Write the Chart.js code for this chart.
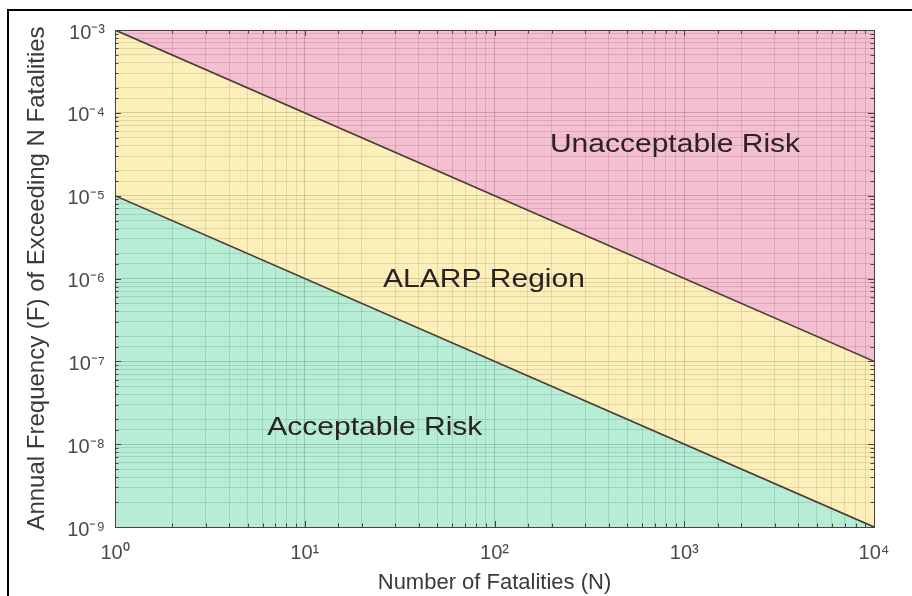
<!DOCTYPE html>
<html>
<head>
<meta charset="utf-8">
<title>F-N Risk Chart</title>
<script src="https://cdn.jsdelivr.net/npm/chart.js@4"></script>
<style>
  html, body { margin: 0; padding: 0; background: #fff; overflow: hidden; }
  #wrap { position: relative; width: 912px; height: 596px; }
  #frame {
    position: absolute; left: 7px; top: 9px; width: 1000px; height: 1000px;
    border-top: 2px solid #000; border-left: 2px solid #000;
  }
  canvas { position: absolute; left: 0; top: 0; }
</style>
</head>
<body>
<div id="wrap">
  <div id="frame"></div>
  <canvas id="fn-chart" width="912" height="596"></canvas>
</div>
<script>
// Criterion lines (F-N curves)
const nValues = [1, 10000];
const upperLimit = [1e-3, 1e-7];
const lowerLimit = [1e-5, 1e-9];

// Region labels and where they sit (N, F)
const regionNames = ['Unacceptable Risk', 'ALARP Region', 'Acceptable Risk'];
const regionN = [894, 88, 23.4];
const regionF = [4.1e-5, 9.6e-7, 1.55e-8];

// Tick labels are powers of ten
const xExponents = [0, 1, 2, 3, 4];
const yExponents = [-9, -8, -7, -6, -5, -4, -3];

const SUP = {'-': '\u207B', '0': '\u2070', '1': '\u00B9', '2': '\u00B2', '3': '\u00B3',
  '4': '\u2074', '5': '\u2075', '6': '\u2076', '7': '\u2077', '8': '\u2078', '9': '\u2079'};

function powerLabel(exps) {
    return function(value) {
        const e = Math.log10(value);
        const r = Math.round(e);
        if (Math.abs(e - r) < 1e-6 && exps.includes(r)) {
            return '10' + String(r).split('').map(c => SUP[c]).join('');
        }
        return '';
    };
}

function toPoints(xs, ys) {
    return xs.map((x, i) => ({x: x, y: ys[i]}));
}

function isDecade(v) {
    const e = Math.log10(v);
    return Math.abs(e - Math.round(e)) < 1e-6;
}

const FONT = '"Liberation Sans", Arial, Helvetica, sans-serif';
const lineColor = '#4a3d36';

/**
 * Plot box, inward tick marks and region captions
 */
const decorations = {
    id: 'decorations',
    afterDraw(chart) {
        const {ctx, chartArea: a, scales: {x, y}} = chart;
        ctx.save();
        ctx.strokeStyle = '#444';
        ctx.lineWidth = 1;
        ctx.beginPath();
        x.ticks.forEach(t => {
            const px = Math.round(x.getPixelForValue(t.value)) + 0.5;
            const len = isDecade(t.value) ? 6 : 3.5;
            ctx.moveTo(px, a.bottom); ctx.lineTo(px, a.bottom - len);
            ctx.moveTo(px, a.top); ctx.lineTo(px, a.top + len);
        });
        y.ticks.forEach(t => {
            const py = Math.round(y.getPixelForValue(t.value)) + 0.5;
            const len = isDecade(t.value) ? 6 : 3.5;
            ctx.moveTo(a.left, py); ctx.lineTo(a.left + len, py);
            ctx.moveTo(a.right, py); ctx.lineTo(a.right - len, py);
        });
        ctx.stroke();
        ctx.strokeRect(Math.round(a.left) + 0.5, Math.round(a.top) + 0.5,
            Math.round(a.right - a.left), Math.round(a.bottom - a.top));

        ctx.font = '25px ' + FONT;
        ctx.fillStyle = '#2a2326';
        ctx.textAlign = 'center';
        ctx.textBaseline = 'middle';
        regionNames.forEach((name, i) => {
            const px = x.getPixelForValue(regionN[i]);
            const py = y.getPixelForValue(regionF[i]);
            ctx.save();
            ctx.translate(px, py);
            ctx.scale(1.2, 1);
            ctx.fillText(name, 0, 0);
            ctx.restore();
        });
        ctx.restore();
    }
};

// grid sits under the translucent fills, so it is drawn a bit darker
const gridColor = function(c) {
    return isDecade(c.tick.value) ? 'rgba(50,50,50,0.36)' : 'rgba(50,50,50,0.24)';
};

new Chart(document.getElementById('fn-chart'), {
    type: 'line',
    data: {
        datasets: [{
            data: toPoints(nValues, upperLimit),
            borderColor: lineColor,
            borderWidth: 1.7,
            backgroundColor: 'rgba(233,127,161,0.5)',
            fill: 'end',
            pointRadius: 0
        }, {
            data: toPoints(nValues, lowerLimit),
            borderColor: lineColor,
            borderWidth: 1.7,
            backgroundColor: 'rgba(249,223,115,0.5)',
            fill: '-1',
            pointRadius: 0
        }, {
            data: toPoints(nValues, lowerLimit),
            borderWidth: 0,
            borderColor: 'rgba(0,0,0,0)',
            backgroundColor: 'rgba(111,219,171,0.5)',
            fill: 'start',
            pointRadius: 0
        }]
    },
    plugins: [decorations],
    options: {
        responsive: false,
        animation: false,
        layout: { padding: { left: 0, right: 38, top: 30, bottom: 0 } },
        plugins: {
            legend: { display: false },
            tooltip: { enabled: false }
        },
        scales: {
            x: {
                type: 'logarithmic',
                min: 1,
                max: 10000,
                afterFit(scale) { scale.height = 69; },
                border: { display: false },
                grid: { drawTicks: false, color: gridColor },
                ticks: {
                    autoSkip: false,
                    maxRotation: 0,
                    padding: 14,
                    color: '#4a4a4a',
                    font: { family: FONT, size: 20 },
                    callback: powerLabel(xExponents)
                },
                title: {
                    display: true,
                    text: 'Number of Fatalities (N)',
                    color: '#3a3a3a',
                    font: { family: FONT, size: 22 },
                    padding: { top: 0, bottom: 0 }
                }
            },
            y: {
                type: 'logarithmic',
                min: 1e-9,
                max: 1e-3,
                afterFit(scale) { scale.width = 115; },
                border: { display: false },
                grid: { drawTicks: false, color: gridColor },
                ticks: {
                    autoSkip: false,
                    padding: 10,
                    labelOffset: 3,
                    color: '#4a4a4a',
                    font: { family: FONT, size: 20 },
                    callback: powerLabel(yExponents)
                },
                title: {
                    display: true,
                    text: 'Annual Frequency (F) of Exceeding N Fatalities',
                    color: '#3a3a3a',
                    font: { family: FONT, size: 24 },
                    padding: { top: 23, bottom: 0 }
                }
            }
        }
    }
});
</script>
</body>
</html>
